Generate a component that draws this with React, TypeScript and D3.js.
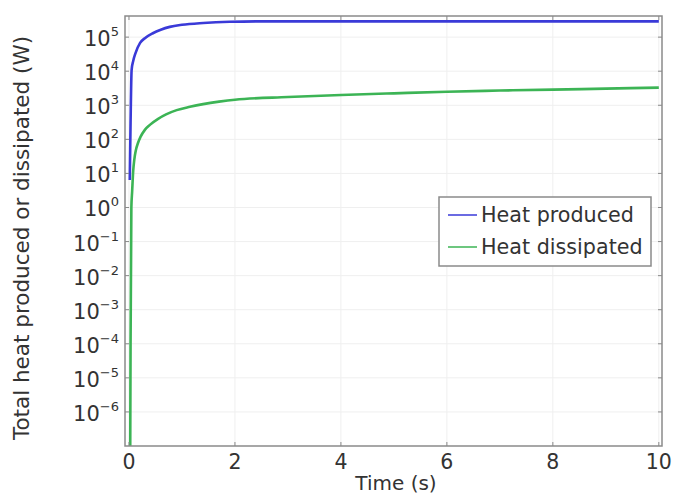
import React from "react";
import * as d3 from "d3";

const timeProduced = [0.015, 0.03, 0.05, 0.08, 0.12, 0.21, 0.3, 0.45, 0.6, 0.77, 1.0, 1.4, 1.9, 2.5, 4, 6, 8, 10];
const heatProduced = [6.4, 300, 1.1e4, 2.0e4, 3.3e4, 6.8e4, 9.3e4, 1.3e5, 1.65e5, 2.0e5, 2.3e5, 2.6e5, 2.82e5, 2.9e5, 2.9e5, 2.9e5, 2.9e5, 2.9e5];

const timeDissipated = [0.02, 0.03, 0.045, 0.06, 0.08, 0.1, 0.13, 0.17, 0.22, 0.3, 0.4, 0.55, 0.7, 0.9, 1.15, 1.4, 1.7, 2.0, 3, 4, 5, 6, 7, 8, 9, 10];
const heatDissipated = [1e-9, 1e-4, 1, 3, 12, 25, 48, 78, 120, 190, 270, 400, 540, 720, 900, 1080, 1280, 1460, 1740, 2000, 2240, 2500, 2700, 2880, 3080, 3300];

const xTicks = [0, 2, 4, 6, 8, 10];
const yTickExponents = [-6, -5, -4, -3, -2, -1, 0, 1, 2, 3, 4, 5];
const seriesNames = ["Heat produced", "Heat dissipated"];
const seriesColors = ["#3a3ad8", "#3cb455"];

const W = 673;
const H = 496;
const L = 125, R = 662, T = 16, B = 446;
const FONT = "DejaVu Sans";

export default function App() {
  const x = d3.scaleLinear().domain([-0.075, 10.06]).range([L, R]);
  const y = d3.scaleLog().domain([1e-7, Math.pow(10, 5.62)]).range([B, T]);

  const line = d3
    .line<[number, number]>()
    .x((d) => x(d[0]))
    .y((d) => y(d[1]))
    .curve(d3.curveMonotoneX);

  const prod = timeProduced.map((t, i) => [t, heatProduced[i]] as [number, number]);
  const diss = timeDissipated.map((t, i) => [t, heatDissipated[i]] as [number, number]);

  const textColor = "#333";
  const axisColor = "#8a8a8a";

  return (
    <svg
      width={W}
      height={H}
      style={{ position: "absolute", left: 0, top: 0, background: "#fff" }}
      fontFamily={FONT}
    >
      <defs>
        <clipPath id="plotclip">
          <rect x={L} y={T} width={R - L} height={B - T} />
        </clipPath>
      </defs>
      <rect x={0} y={0} width={W} height={H} fill="#fff" />
      {/* grid */}
      <g stroke="#efefef" strokeWidth={1}>
        {xTicks.map((t) => (
          <line key={"gx" + t} x1={x(t)} x2={x(t)} y1={T} y2={B} />
        ))}
        {yTickExponents.map((e) => (
          <line key={"gy" + e} x1={L} x2={R} y1={y(Math.pow(10, e))} y2={y(Math.pow(10, e))} />
        ))}
      </g>
      {/* data */}
      <g clipPath="url(#plotclip)" fill="none" strokeWidth={2.6} strokeLinejoin="round">
        <path d={line(diss) || ""} stroke={seriesColors[1]} />
        <path d={line(prod) || ""} stroke={seriesColors[0]} />
      </g>
      {/* frame */}
      <rect x={L} y={T} width={R - L} height={B - T} fill="none" stroke={axisColor} strokeWidth={1.5} />
      {/* ticks */}
      <g stroke={axisColor} strokeWidth={1}>
        {xTicks.map((t) => (
          <g key={"tx" + t}>
            <line x1={x(t)} x2={x(t)} y1={B} y2={B - 4} />
            <line x1={x(t)} x2={x(t)} y1={T} y2={T + 4} />
          </g>
        ))}
        {yTickExponents.map((e) => (
          <g key={"ty" + e}>
            <line x1={L} x2={L + 4} y1={y(Math.pow(10, e))} y2={y(Math.pow(10, e))} />
            <line x1={R} x2={R - 4} y1={y(Math.pow(10, e))} y2={y(Math.pow(10, e))} />
          </g>
        ))}
      </g>
      {/* x tick labels */}
      <g fill={textColor} fontSize={20.5} textAnchor="middle">
        {xTicks.map((t) => (
          <text key={"lx" + t} x={x(t)} y={469}>
            {t}
          </text>
        ))}
      </g>
      {/* y tick labels */}
      <g fill={textColor} textAnchor="end">
        {yTickExponents.map((e) => (
          <text key={"ly" + e} x={119} y={y(Math.pow(10, e)) + 9} fontSize={21}>
            10
            <tspan fontSize={13} dy={-10}>
              {e < 0 ? "\u2212" + Math.abs(e) : String(e)}
            </tspan>
          </text>
        ))}
      </g>
      {/* axis titles */}
      <text x={396} y={490} fontSize={20} fill={textColor} textAnchor="middle">
        Time (s)
      </text>
      <text
        transform={`translate(29,${238}) rotate(-90)`}
        fontSize={21.5}
        fill={textColor}
        textAnchor="middle"
      >
        Total heat produced or dissipated (W)
      </text>
      {/* legend */}
      <g>
        <rect x={439} y={197} width={212} height={69} fill="#fff" stroke={axisColor} strokeWidth={1.5} />
        {seriesNames.map((n, i) => (
          <g key={n}>
            <line
              x1={448}
              x2={477}
              y1={215 + i * 32}
              y2={215 + i * 32}
              stroke={seriesColors[i]}
              strokeWidth={1.5}
            />
            <text x={481} y={215 + i * 32 + 7} fontSize={20.7} fill={textColor}>
              {n}
            </text>
          </g>
        ))}
      </g>
    </svg>
  );
}
